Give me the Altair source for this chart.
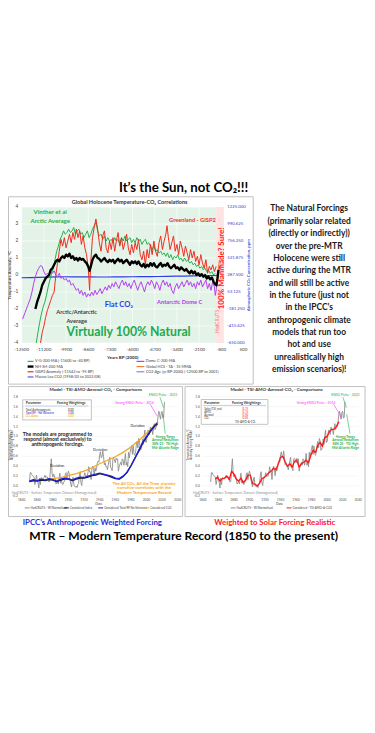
import altair as alt
import pandas as pd

FONT = "Lato"
W, H = 366, 560

# ---------------- data: main Holocene chart ----------------
vg_years = [-11650,-11550,-11450,-11350,-11250,-11150,-11050,-10950,-10850,-10750,-10650,-10550,-10450,-10350,-10250,-10150,-10050,-9950,-9850,-9750,-9650,-9550,-9450,-9350,-9250,-9150,-9050,-8950,-8850,-8750,-8650,-8550,-8450,-8350,-8250,-8150,-8050,-7950,-7850,-7750,-7650,-7550,-7450,-7350,-7250,-7150,-7050,-6950,-6850,-6750,-6650,-6550,-6450,-6350,-6250,-6150,-6050,-5950,-5850,-5750,-5650,-5550,-5450,-5350,-5250,-5150,-5050,-4950,-4850,-4750,-4650,-4550,-4450,-4350,-4250,-4150,-4050,-3950,-3850,-3750,-3650,-3550,-3450,-3350,-3250,-3150,-3050,-2950,-2850,-2750,-2650,-2550,-2450,-2350,-2250,-2150,-2050,-1950,-1850,-1750,-1650,-1550,-1450,-1350,-1250,-1150]
vg_vals = [-4.0,-3.4,-2.8,-2.3,-1.9,-1.6,-1.2,-0.7,-0.3,0.1,0.4,0.9,1.4,1.7,2.1,2.3,2.6,2.4,2.5,2.7,2.5,2.6,2.8,2.4,2.6,2.7,2.4,2.5,2.2,2.4,2.6,2.2,2.4,2.7,2.9,3.1,2.6,2.3,2.4,2.1,2.3,2.0,2.2,2.0,2.1,1.9,2.2,2.0,2.1,1.8,2.2,2.0,2.3,2.0,2.1,2.2,1.9,2.1,1.9,2.2,2.0,2.1,1.8,2.0,2.1,1.8,1.9,1.7,1.5,1.7,1.4,1.5,1.3,1.4,1.2,1.3,1.1,1.3,1.0,1.2,0.9,1.1,1.0,1.2,0.9,1.0,0.8,1.0,0.8,0.9,0.7,0.8,0.6,0.7,0.5,0.6,0.4,0.5,0.3,0.4,0.2,0.3,0.1,0.2,0.0,0.1]

gisp_years = [-11400,-11300,-11200,-11100,-11000,-10900,-10800,-10700,-10600,-10500,-10400,-10300,-10200,-10100,-10000,-9900,-9800,-9700,-9600,-9500,-9400,-9300,-9200,-9100,-9000,-8900,-8800,-8700,-8600,-8520,-8450,-8350,-8250,-8150,-8050,-7950,-7850,-7750,-7650,-7550,-7450,-7350,-7250,-7150,-7050,-6950,-6850,-6750,-6650,-6550,-6450,-6350,-6250,-6150,-6050,-5950,-5850,-5750,-5650,-5550,-5450,-5350,-5250,-5150,-5050,-4950,-4850,-4750,-4650,-4550,-4450,-4350,-4250,-4150,-4050,-3980,-3900,-3800,-3700,-3600,-3500,-3400,-3300,-3200,-3100,-3000,-2900,-2800,-2700,-2600,-2500,-2400,-2300,-2200,-2100,-2000,-1900,-1800,-1700,-1600,-1500,-1400,-1300,-1200,-1100]
gisp_vals = [-4.0,-3.4,-3.0,-2.5,-2.1,-1.8,-1.5,-1.2,-1.0,0.0,0.7,1.4,2.1,1.7,2.2,1.6,2.0,2.4,1.9,2.5,2.1,2.7,2.2,2.6,1.8,2.3,1.6,1.2,0.4,-0.9,0.8,2.2,2.8,3.3,2.7,1.9,1.4,2.3,2.6,1.6,1.3,2.0,1.5,2.2,1.4,2.0,2.5,1.7,2.2,1.5,1.9,2.4,1.6,1.2,1.8,1.3,1.9,1.5,2.1,1.2,0.9,1.4,0.6,1.5,1.0,1.8,1.2,2.0,1.4,1.1,1.9,2.3,1.5,2.0,2.4,2.9,2.2,1.5,1.9,2.3,1.4,1.8,1.2,2.0,1.6,1.1,1.7,1.3,0.9,1.5,1.0,1.4,0.8,1.1,0.6,1.2,0.7,0.4,0.9,0.1,0.5,0.3,0.6,0.2,0.5]

nhsh_years = [-11700,-11600,-11500,-11400,-11300,-11200,-11100,-11000,-10900,-10800,-10700,-10600,-10500,-10400,-10300,-10200,-10100,-10000,-9900,-9800,-9700,-9600,-9500,-9400,-9300,-9200,-9100,-9000,-8900,-8800,-8700,-8600,-8520,-8450,-8350,-8250,-8150,-8050,-7950,-7850,-7750,-7650,-7550,-7450,-7350,-7250,-7150,-7050,-6950,-6850,-6750,-6650,-6550,-6450,-6350,-6250,-6150,-6050,-5950,-5850,-5750,-5650,-5550,-5450,-5350,-5250,-5150,-5050,-4950,-4850,-4750,-4650,-4550,-4450,-4350,-4250,-4150,-4050,-3950,-3850,-3750,-3650,-3550,-3450,-3350,-3250,-3150,-3050,-2950,-2850,-2750,-2650,-2550,-2450,-2350,-2250,-2150,-2050,-1950,-1850,-1750,-1650,-1550,-1450,-1350,-1250,-1150,-1080,-1020,-960]
nhsh_vals = [-2.0,-1.6,-1.3,-1.0,-0.6,-0.4,-0.2,-0.1,0.0,0.3,0.4,0.6,0.8,0.9,0.8,1.0,1.1,1.0,1.2,1.1,1.25,1.0,1.1,0.9,1.0,0.85,1.0,0.9,0.95,0.8,0.7,0.5,0.25,0.5,0.9,1.1,1.2,1.0,0.95,0.8,0.9,1.0,0.85,0.75,0.9,0.8,0.9,0.7,0.85,0.95,0.8,0.9,0.7,0.8,0.9,0.75,0.6,0.8,0.7,0.8,0.65,0.8,0.6,0.5,0.65,0.45,0.6,0.5,0.7,0.55,0.7,0.5,0.45,0.6,0.7,0.5,0.6,0.55,0.7,0.5,0.4,0.5,0.6,0.4,0.45,0.3,0.45,0.35,0.25,0.35,0.2,0.1,0.25,0.1,0.2,0.0,0.1,-0.05,0.05,-0.1,0.0,-0.2,-0.1,-0.25,-0.15,-0.4,-0.55,-0.6,-0.2,0.3]

domec_years = [-12450,-12300,-12150,-12000,-11900,-11800,-11700,-11600,-11500,-11400,-11300,-11200,-11100,-11000,-10900,-10800,-10700,-10600,-10500,-10400,-10300,-10200,-10100,-10000,-9900,-9800,-9700,-9600,-9500,-9400,-9300,-9200,-9100,-9000,-8900,-8800,-8700,-8600,-8500,-8400,-8300,-8200,-8100,-8000,-7900,-7800,-7700,-7600,-7500,-7400,-7300,-7200,-7100,-7000,-6900,-6800,-6700,-6600,-6500,-6400,-6300,-6200,-6100,-6000,-5900,-5800,-5700,-5600,-5500,-5400,-5300,-5200,-5100,-5000,-4900,-4800,-4700,-4600,-4500,-4400,-4300,-4200,-4100,-4000,-3900,-3800,-3700,-3600,-3500,-3400,-3300,-3200,-3100,-3000,-2900,-2800,-2700,-2600,-2500,-2400,-2300,-2200,-2100,-2000,-1900,-1800,-1700,-1600,-1500,-1400,-1300,-1200,-1150,-1080,-1020]
domec_vals = [-2.6,-2.2,-1.8,-1.4,-1.0,-0.5,-0.1,0.2,0.4,0.55,0.5,0.2,0.0,0.1,0.0,0.2,0.1,0.25,0.0,-0.1,0.1,-0.2,-0.1,-0.3,-0.2,-0.4,-0.3,-0.6,-0.5,-0.7,-0.9,-0.8,-1.1,-0.9,-1.2,-1.0,-1.3,-1.1,-1.25,-1.0,-1.2,-0.9,-1.15,-1.0,-0.8,-1.1,-0.9,-0.7,-0.9,-0.6,-0.8,-0.5,-0.7,-0.4,-0.6,-0.8,-0.5,-0.3,-0.6,-0.4,-0.7,-0.5,-0.8,-0.5,-0.3,-0.6,-0.9,-0.6,-0.4,-0.7,-1.0,-0.6,-0.4,-0.6,-0.3,-0.5,-0.8,-0.4,-0.6,-0.9,-0.5,-0.3,-0.6,-0.4,-0.7,-0.5,-0.9,-1.1,-0.7,-0.5,-0.8,-0.6,-0.4,-0.7,-0.5,-0.3,-0.6,-0.4,-0.7,-0.5,-0.8,-0.4,-0.6,-0.3,-0.7,-0.5,-0.3,-0.8,-0.5,-0.9,-0.4,-0.7,-1.2,-0.8,-0.3]

co2age_years = [-12500,-12000,-11500,-11000,-10500,-10000,-9500,-9000,-8500,-8000,-7500,-7000,-6500,-6000,-5500,-5000,-4500,-4000,-3500,-3000,-2500,-2000,-1500,-1050]
co2age_ppm = [250,252,255,258,262,263,262,261,261,260,260,261,262,263,264,265,267,269,271,273,275,277,279,281]

mauna_years = [-1050,-1000,-960,-920,-880]
mauna_ppm = [281,316,345,380,418]

hcs_years = [-1100,-1060,-1020,-980,-940,-900]
hcs_vals = [-0.2,-0.3,-0.1,0.2,0.6,0.9]

x_ticks = [-12500,-11200,-9900,-8600,-7300,-6000,-4700,-3400,-2100,-800,500]
y_ticks = [4,3,2,1,0,-1,-2,-3,-4]
ppm_ticks = [1225.0,990.625,756.25,521.875,287.5,53.125,-181.25,-415.625,-650.0]

leg_main_left = ["V-G-200-MA (-11600 to -40 BP)", "NH-SH-200-MA", "GISP2 Anomaly (-11542 to -95 BP)", "Mauna Loa CO2 (1958/03 to 2022/08)"]
leg_main_right = ["Dome C-200-MA", "Global HCS - TA - 15 MMA", "CO2 Age (yr BP-2000) (-12500 BP to 2001)"]

# ---------------- data: modern temperature record charts ----------------
had_years = list(range(1850, 2024))
had_vals = [0.08,0.27,0.27,0.23,0.21,0.20,0.18,0.03,0.11,0.22,0.11,0.07,-0.04,0.16,0.03,0.17,0.16,0.14,0.15,0.18,
            0.22,0.17,0.19,0.18,0.12,0.08,0.10,0.37,0.55,0.26,0.18,0.24,0.21,0.15,0.04,0.06,0.11,0.04,0.15,0.26,
            0.06,0.12,0.04,0.03,0.08,0.10,0.25,0.27,0.13,0.24,0.30,0.24,0.12,0.04,-0.02,0.12,0.18,0.02,-0.01,-0.02,
            0.00,-0.03,0.03,0.05,0.22,0.29,0.07,0.01,0.14,0.19,0.21,0.27,0.19,0.20,0.20,0.27,0.39,0.29,0.29,0.13,
            0.34,0.40,0.34,0.21,0.37,0.30,0.35,0.47,0.50,0.48,0.63,0.69,0.57,0.59,0.71,0.59,0.43,0.47,0.39,0.39,
            0.33,0.43,0.51,0.58,0.37,0.36,0.31,0.55,0.56,0.53,0.47,0.56,0.53,0.55,0.30,0.39,0.44,0.48,0.42,0.55,
            0.53,0.42,0.51,0.66,0.42,0.48,0.39,0.68,0.57,0.67,0.76,0.82,0.64,0.81,0.66,0.62,0.68,0.83,0.90,0.77,
            0.96,0.91,0.72,0.74,0.81,0.95,0.84,1.02,1.13,0.88,0.89,1.04,1.13,1.12,1.04,1.19,1.14,1.15,1.04,1.16,
            1.26,1.14,1.18,1.21,1.27,1.44,1.51,1.42,1.35,1.48,1.51,1.37,1.39,1.70]

rf_years = [1850,1855,1860,1865,1870,1875,1880,1885,1890,1895,1900,1905,1910,1915,1920,1925,1930,1935,1940,1945,1950,1955,1960,1965,1970,1975,1980,1985,1990,1995,2000,2005,2010,2014]
rf_vals = [0.10,0.13,0.11,0.14,0.12,0.15,0.13,0.10,0.14,0.16,0.15,0.12,0.16,0.18,0.17,0.20,0.22,0.24,0.26,0.24,0.22,0.20,0.16,0.15,0.20,0.28,0.40,0.55,0.72,0.88,1.00,1.12,1.22,1.28]
idx_vals = [0.09,0.11,0.10,0.12,0.11,0.13,0.12,0.09,0.12,0.14,0.14,0.11,0.14,0.16,0.16,0.18,0.21,0.22,0.25,0.23,0.21,0.18,0.15,0.14,0.19,0.27,0.41,0.56,0.70,0.86,0.98,1.10,1.20,1.25]

co2_years = [1850,1860,1870,1880,1890,1900,1910,1920,1930,1940,1950,1960,1970,1980,1990,2000,2010,2015]
co2_vals = [0.10,0.11,0.13,0.15,0.17,0.21,0.25,0.30,0.37,0.45,0.52,0.59,0.68,0.79,0.92,1.06,1.22,1.29]

tac_years = [1856,1859,1862,1865,1868,1871,1874,1877,1880,1883,1886,1889,1892,1895,1898,1901,1904,1907,1910,1913,1916,1919,1922,1925,1928,1931,1934,1937,1940,1943,1946,1949,1952,1955,1958,1961,1964,1967,1970,1973,1976,1979,1982,1985,1988,1991,1994,1997,2000,2003,2006,2009,2012,2015]
tac_vals = [0.14,0.18,0.10,0.15,0.16,0.20,0.13,0.30,0.24,0.14,0.10,0.16,0.07,0.12,0.22,0.22,0.05,0.04,0.00,0.06,0.15,0.17,0.22,0.27,0.30,0.36,0.33,0.44,0.58,0.60,0.48,0.40,0.45,0.38,0.50,0.52,0.38,0.45,0.48,0.52,0.47,0.62,0.72,0.68,0.82,0.88,0.80,0.98,1.00,1.10,1.14,1.15,1.20,1.30]

mtr_x_ticks = [1840,1860,1880,1900,1920,1940,1960,1980,2000,2020,2040]
mtr_y_ticks = [1.8,1.6,1.4,1.2,1.0,0.8,0.6,0.4,0.2,0.0,-0.2]

ipcc_params = ["Total Anthropogenic", "Total RF - No Volcanics", "CO\u2082 Alone"]
ipcc_weights = ["0.00", "1.00", "0.00"]
solar_params = ["Solar (TSI_ssn)", "AMO", "Aerosol", "CO\u2082"]
solar_weights = ["0.75", "0.75", "0.50", "0.05"]

leg_ipcc = ["HadCRUT5 - W/Normalised", "Considered Index", "Considered Total RF No Volcanics", "Considered CO2"]
leg_solar = ["HadCRUT5 - W/Normalised", "Considered - TSI-AMO-A-CO2"]

side_lines = ["The Natural Forcings", "(primarily solar related", "(directly or indirectly))", "over the pre-MTR",
              "Holocene were still", "active during the MTR", "and will still be active", "in the future (just not",
              "in the IPCC\u2019s", "anthropogenic  climate", "models that run too", "hot and use",
              "unrealistically  high", "emission scenarios)!"]

# ---------------- helpers ----------------
def X(v):
    return v - 8

def Y(v):
    return v - 8

layers = []

def one():
    return pd.DataFrame({"a": [0]})

def text(s, x, y, size, color="#000000", bold=False, angle=0, align="center", baseline="middle"):
    kw = dict(fontSize=size, color=color, align=align, baseline=baseline, font=FONT)
    if bold:
        kw["fontWeight"] = "bold"
    if angle:
        kw["angle"] = angle
    layers.append(alt.Chart(pd.DataFrame({"t": [s]})).mark_text(**kw).encode(
        text="t:N", x=alt.value(X(x)), y=alt.value(Y(y))))

def box(x0, y0, x1, y1, stroke="#c0c0c0", sw=1.0):
    layers.append(alt.Chart(one()).mark_rect(fill="#ffffff", fillOpacity=0, stroke=stroke, strokeWidth=sw).encode(
        x=alt.value(X(x0)), x2=alt.value(X(x1)), y=alt.value(Y(y0)), y2=alt.value(Y(y1))))

def seg(x0, y0, x1, y1, color, sw=0.8):
    layers.append(alt.Chart(one()).mark_rule(color=color, strokeWidth=sw).encode(
        x=alt.value(X(x0)), x2=alt.value(X(x1)), y=alt.value(Y(y0)), y2=alt.value(Y(y1))))

def sc(domain, rng):
    return alt.Scale(domain=domain, range=rng, nice=False, zero=False)

def series(xs, ys, xscale, yscale, color, sw):
    df = pd.DataFrame({"x": xs, "y": ys})
    layers.append(alt.Chart(df).mark_line(color=color, strokeWidth=sw, strokeJoin="round").encode(
        x=alt.X("x:Q", scale=xscale, axis=None), y=alt.Y("y:Q", scale=yscale, axis=None)))

# ---------------- header ----------------
text("It\u2019s the Sun, not CO\u2082!!!", 187, 186, 13.5, "#000000", bold=True)

# ---------------- main Holocene chart ----------------
mx = sc([-12500, 500], [X(22), X(248)])
my = sc([-4, 4], [Y(344), Y(205.5)])
mppm = sc([-650, 1225], [Y(344), Y(205.5)])

box(8.5, 195, 258, 386)
bg = pd.DataFrame({"x0": [-12500], "x1": [-1100], "y0": [-4], "y1": [4]})
layers.append(alt.Chart(bg).mark_rect(color="#e4f3e7").encode(
    x=alt.X("x0:Q", scale=mx, axis=None), x2="x1", y=alt.Y("y0:Q", scale=my, axis=None), y2="y1"))
band = pd.DataFrame({"x0": [-1100], "x1": [-650], "y0": [-4], "y1": [4]})
layers.append(alt.Chart(band).mark_rect(color="#fde3e3").encode(
    x=alt.X("x0:Q", scale=mx, axis=None), x2="x1", y=alt.Y("y0:Q", scale=my, axis=None), y2="y1"))
layers.append(alt.Chart(pd.DataFrame({"v": y_ticks})).mark_rule(color="#ffffff", strokeWidth=0.6).encode(
    y=alt.Y("v:Q", scale=my, axis=None), x=alt.value(X(22)), x2=alt.value(X(220))))
layers.append(alt.Chart(pd.DataFrame({"v": x_ticks[:-2]})).mark_rule(color="#ffffff", strokeWidth=0.6).encode(
    x=alt.X("v:Q", scale=mx, axis=None), y=alt.value(Y(205.5)), y2=alt.value(Y(344))))

series(co2age_years, co2age_ppm, mx, mppm, "#2b3fe6", 1.2)
series(mauna_years, mauna_ppm, mx, mppm, "#4b55f5", 1.2)
series(domec_years, domec_vals, mx, my, "#b13cf0", 1.0)
series(vg_years, vg_vals, mx, my, "#22b14c", 1.0)
series(gisp_years, gisp_vals, mx, my, "#ee2b20", 1.0)
series(hcs_years, hcs_vals, mx, my, "#ed7d31", 1.1)
series(nhsh_years, nhsh_vals, mx, my, "#000000", 2.4)

# tick labels
layers.append(alt.Chart(pd.DataFrame({"v": x_ticks, "lab": [str(v) for v in x_ticks]})).mark_text(
    fontSize=4.6, color="#404040", font=FONT, baseline="middle").encode(
    x=alt.X("v:Q", scale=mx, axis=None), y=alt.value(Y(351)), text="lab:N"))
layers.append(alt.Chart(pd.DataFrame({"v": y_ticks, "lab": [str(v) for v in y_ticks]})).mark_text(
    fontSize=4.8, color="#404040", font=FONT, align="right", baseline="middle").encode(
    y=alt.Y("v:Q", scale=my, axis=None), x=alt.value(X(18.5)), text="lab:N"))
layers.append(alt.Chart(pd.DataFrame({"v": ppm_ticks, "lab": ["%.3f" % v for v in ppm_ticks]})).mark_text(
    fontSize=4.4, color="#3a45d0", font=FONT, align="left", baseline="middle").encode(
    y=alt.Y("v:Q", scale=mppm, axis=None), x=alt.value(X(231.5)), text="lab:N"))

text("Global Holocene Temperature-CO\u2082 Correlations", 132, 200.5, 5.6, "#333333", bold=True)
text("Temperature Anomaly, \u00b0C", 10.5, 275, 4.4, "#333333", bold=True, angle=270)
text("Atmospheric CO\u2082 Concentration, ppm", 254, 275, 4.4, "#3a45d0", bold=True, angle=270)
text("Years BP (2000)", 125, 359, 4.6, "#333333", bold=True)

text("Vinther et al", 51, 210.5, 6.2, "#22b14c", bold=True)
text("Arctic Average", 51, 219.5, 6.2, "#22b14c", bold=True)
text("Greenland - GISP2", 196, 218.5, 5.8, "#e8332a", bold=True)
text("Arctic/Antarctic", 78, 313, 5.8, "#404040", bold=True)
text("Average", 78, 322, 5.8, "#404040", bold=True)
text("Flat CO\u2082", 121, 305, 7.8, "#2c3ee8", bold=True)
text("Antarctic Dome C", 183, 302.7, 5.8, "#b03ae8", bold=True)
text("Virtually 100% Natural", 131, 333, 12.5, "#1daa50", bold=True)
text("100% Manmade? Sure!", 226.3, 268, 8.2, "#ff1f1f", bold=True, angle=270)
text("HadCRUT5", 221.8, 322, 4.8, "#f07878", angle=270)

# legend
main_leg_cols = ["#22b14c", "#000000", "#ee2b20", "#4b55f5"]
main_leg_w = [1.2, 2.4, 1.2, 1.2]
for i, lab in enumerate(leg_main_left):
    yy = 362.8 + i * 5.3
    seg(28, yy, 34, yy, main_leg_cols[i], main_leg_w[i])
    text(lab, 35.5, yy, 3.9, "#404040", align="left")
main_leg_cols_r = ["#b13cf0", "#ed7d31", "#6f8cf7"]
for i, lab in enumerate(leg_main_right):
    yy = 362.8 + i * 5.3
    seg(139, yy, 147, yy, main_leg_cols_r[i], 1.2)
    text(lab, 148.5, yy, 3.9, "#404040", align="left")

# ---------------- side text ----------------
for i, ln in enumerate(side_lines):
    text(ln, 315, 207 + i * 12.58, 8.6, "#1a1a1a", bold=True)

# ---------------- modern temperature record panels ----------------
def mtr_panel(frame, xr, title_x, tick_right):
    fx0, fx1 = frame
    box(max(fx0, 8.5), 388.5, fx1, 521)
    xs = sc([1840, 2040], [X(xr[0]), X(xr[1])])
    ys = sc([-0.2, 1.8], [Y(500), Y(399)])
    layers.append(alt.Chart(pd.DataFrame({"v": mtr_y_ticks})).mark_rule(color="#eeeeee", strokeWidth=0.5).encode(
        y=alt.Y("v:Q", scale=ys, axis=None), x=alt.value(X(xr[0])), x2=alt.value(X(xr[1]))))
    layers.append(alt.Chart(pd.DataFrame({"v": mtr_x_ticks, "lab": [str(v) for v in mtr_x_ticks]})).mark_text(
        fontSize=3.3, color="#595959", font=FONT, baseline="middle").encode(
        x=alt.X("v:Q", scale=xs, axis=None), y=alt.value(Y(504.6)), text="lab:N"))
    layers.append(alt.Chart(pd.DataFrame({"v": mtr_y_ticks, "lab": ["%.1f" % v for v in mtr_y_ticks]})).mark_text(
        fontSize=3.3, color="#595959", font=FONT, align="right", baseline="middle").encode(
        y=alt.Y("v:Q", scale=ys, axis=None), x=alt.value(X(tick_right)), text="lab:N"))
    text("Model - TSI-AMO-Aerosol-CO\u2082 - Comparisons", (xr[0] + xr[1]) / 2 - 4, 392.3, 4.6, "#333333", bold=True)
    text("Temperature Anomaly, \u00b0C", title_x, 448, 2.9, "#404040", angle=270)
    text("Anomaly Forcing Model", title_x + 2.8, 448, 2.9, "#404040", angle=270)
    text("Date", (xr[0] + xr[1]) / 2 - 1, 508.3, 3.4, "#404040")
    text("HadCRUT5 - Surface Temperature Dataset (Homogenized)", xr[0] + 33, 497.3, 3.4, "#8c8c8c")
    return xs, ys

# left: IPCC
lxs, lys = mtr_panel((2, 186), (21.9, 181), 9.8, 18.0)
series(had_years, had_vals, lxs, lys, "#8c8c8c", 0.9)
series(co2_years, co2_vals, lxs, lys, "#f5a623", 1.3)
series(rf_years, idx_vals, lxs, lys, "#1a1a1a", 1.3)
series(rf_years, rf_vals, lxs, lys, "#2020e0", 1.3)
box(23, 402, 93, 422.5, "#9a9a9a", 0.6)
text("Parameter", 26, 405.5, 3.4, "#333333", bold=True, align="left")
text("Forcing Weightings", 72.5, 405.5, 3.4, "#333333", bold=True)
seg(25, 408.3, 90, 408.3, "#7aa0d0", 0.5)
ipcc_cols = ["#333333", "#2020e0", "#f5a623"]
for i, p in enumerate(ipcc_params):
    yy = 412.3 + i * 3.3
    text(p, 26, yy, 2.9, ipcc_cols[i], align="left")
    text(ipcc_weights[i], 72, yy, 2.9, ipcc_cols[i])
text("The models are programmed to", 58.5, 436.7, 5.1, "#1a1a1a", bold=True)
text("respond (almost exclusively) to", 58.5, 441.7, 5.1, "#1a1a1a", bold=True)
text("anthropogenic forcings.", 58.5, 446.7, 5.1, "#1a1a1a", bold=True)
text("Deviation", 58, 469.5, 3.4, "#1a1a1a")
text("Deviation", 102, 453.3, 3.4, "#1a1a1a")
text("Deviation", 140, 429, 3.4, "#1a1a1a")
text("Strong ENSO Pulse - 2016", 137, 405, 3.4, "#ff30ff")
seg(153, 406.5, 160, 418.5, "#ff30ff", 0.6)
text("ENSO Pulse - 2023", 166, 397.3, 3.4, "#22b14c")
seg(163, 399.5, 166.5, 410, "#22b14c", 0.6)
seg(166, 416.5, 168.3, 436.5, "#22b14c", 0.6)
for i, ln in enumerate(["Hunga-Tonga", "Aerosol Reduction", "SSN-25 - TSI High", "Mid-Atlantic Ridge"]):
    text(ln, 168.3, 439.5 + i * 3.8, 3.3, "#22b14c", bold=True)
for i, ln in enumerate(["The All CO\u2082, All the Time alarmist", "narrative correlates with the", "Modern Temperature Record"]):
    text(ln, 146.7, 487.5 + i * 4.6, 4.4, "#f5a623", bold=True)
ipcc_leg_cols = ["#8c8c8c", "#1a1a1a", "#2020e0", "#f5a623"]
ipcc_leg_x = [25, 65, 100, 147]
for i, lab in enumerate(leg_ipcc):
    seg(ipcc_leg_x[i], 512.2, ipcc_leg_x[i] + 5, 512.2, ipcc_leg_cols[i], 1.0)
    text(lab, ipcc_leg_x[i] + 6, 512.2, 3.0, "#404040", align="left")

# right: solar weighted
rxs, rys = mtr_panel((188.5, 372), (206.7, 365), 192.0, 203.5)
series(had_years, had_vals, rxs, rys, "#8c8c8c", 0.9)
series(tac_years, tac_vals, rxs, rys, "#ff1a1a", 1.4)
box(205, 401.7, 273, 427, "#9a9a9a", 0.6)
text("Parameter", 208, 405, 3.4, "#333333", bold=True, align="left")
text("Forcing Weightings", 251, 405, 3.4, "#333333", bold=True)
seg(207, 407.7, 271, 407.7, "#7aa0d0", 0.5)
for i, p in enumerate(solar_params):
    yy = 411 + i * 3.35
    text(p, 208, yy, 2.9, "#333333", align="left")
    text(solar_weights[i], 250, yy, 2.9, "#ff1a1a")
text("TSI-AMO-A-CO\u2082", 250, 424.6, 2.9, "#333333")
text("Strong ENSO Pulse - 2016", 322, 405, 3.4, "#ff30ff")
seg(340, 406.5, 348, 420, "#ff30ff", 0.6)
text("ENSO Pulse - 2023", 352, 397.3, 3.4, "#22b14c")
seg(349.5, 399.5, 353, 410, "#22b14c", 0.6)
seg(353.3, 416.7, 356.7, 436.5, "#22b14c", 0.6)
for i, ln in enumerate(["Hunga-Tonga", "Aerosol Reduction", "SSN-25 - TSI High", "Mid-Atlantic Ridge"]):
    text(ln, 352, 439.5 + i * 3.8, 3.3, "#22b14c", bold=True)
solar_leg_cols = ["#8c8c8c", "#ff1a1a"]
solar_leg_x = [235, 292]
for i, lab in enumerate(leg_solar):
    seg(solar_leg_x[i], 512.2, solar_leg_x[i] + 5, 512.2, solar_leg_cols[i], 1.0)
    text(lab, solar_leg_x[i] + 6, 512.2, 3.0, "#404040", align="left")

# ---------------- captions ----------------
text("IPCC\u2019s Anthropogenic Weighted Forcing", 94, 527.7, 8.0, "#2233dd", bold=True)
text("Weighted to Solar Forcing Realistic", 280, 527.7, 8.0, "#ff1a1a", bold=True)
text("MTR \u2013 Modern Temperature Record (1850 to the present)", 187, 540.7, 12.3, "#000000", bold=True)

chart = alt.layer(*layers).resolve_scale(x="independent", y="independent").properties(
    width=W, height=H, autosize=alt.AutoSizeParams(type="none"), padding=0, background="#ffffff"
).configure_view(strokeWidth=0)

chart.save("out.html", embed_options={"renderer": "svg", "actions": False})
